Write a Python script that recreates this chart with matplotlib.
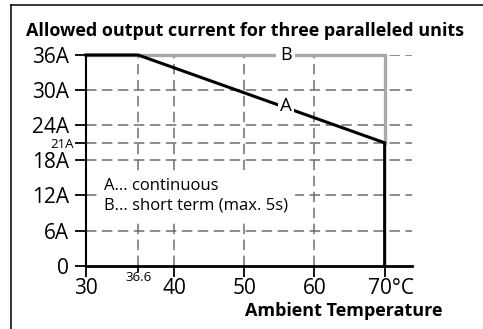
import numpy as np
import matplotlib.pyplot as plt
import matplotlib.transforms as mtransforms
from matplotlib.lines import Line2D

plt.rcParams['font.family'] = ['Open Sans', 'DejaVu Sans']
plt.rcParams['lines.scale_dashes'] = False

# derating curves (temperature in degC, current in A)
temp_a = [30, 36.6, 70, 70]
current_a = [36, 36, 21, 0]
temp_b = [30, 70, 70]
current_b = [36, 36, 21]

x_major = [30, 40, 50, 60, 70]
x_major_labels = ["30", "40", "50", "60", "70°C"]
x_minor = [36.6]
x_minor_labels = ["36.6"]
y_major = [0, 6, 12, 18, 24, 30, 36]
y_major_labels = ["0", "6A", "12A", "18A", "24A", "30A", "36A"]
y_minor = [21]
y_minor_labels = ["21A"]

# the temperature axis of the drawing is not evenly spaced
brk_t = np.array([20, 30, 36.6, 40, 80])
brk_p = np.array([-79, 0, 52, 88, 368])

def fwd(t):
    return np.interp(t, brk_t, brk_p)

def inv(p):
    return np.interp(p, brk_p, brk_t)

fig = plt.figure(figsize=(4.83, 3.29), dpi=100)
ax = fig.add_axes([86 / 483, 1 - 265.7 / 329, 326 / 483, 210.7 / 329])
ax.set_xscale('function', functions=(fwd, inv))
ax.set_xlim(30, 73.9)
ax.set_ylim(0, 36)

grid_kw = dict(color='#6e6e6e', lw=1.1, ls=(0, (7.5, 4)), zorder=1)
for y in y_major[1:] + y_minor:
    ax.axhline(y, **grid_kw)
for x in [36.6, 40, 50, 60]:
    ax.plot([x, x], [0, 36], **grid_kw)

ax.plot(temp_b, current_b, color='#a8a8a8', lw=2.4, zorder=3, clip_on=False,
        solid_joinstyle='miter')
ax.plot(temp_a, current_a, color='black', lw=2.2, zorder=4, clip_on=False,
        solid_joinstyle='miter')

ax.text(55.9, 27.35, "A", fontsize=13.5, ha='center', va='center', zorder=5,
        bbox=dict(fc='white', ec='none', pad=1.5))
ax.text(55.9, 36, "B", fontsize=13, ha='center', va='center', zorder=5,
        bbox=dict(fc='white', ec='none', pad=2.5))

ax.text(32.3, 11.9, "A... continuous\nB... short term (max. 5s)", fontsize=12,
        ha='left', va='center', linespacing=1.3, zorder=5,
        bbox=dict(fc='white', ec='none', pad=5))

for s in ['top', 'right']:
    ax.spines[s].set_visible(False)
ax.spines['left'].set_bounds(0, 36)
ax.spines['left'].set_linewidth(1.5)
ax.spines['bottom'].set_linewidth(2.0)
ax.spines['left'].set_zorder(6)
ax.spines['bottom'].set_zorder(6)

ax.set_xticks(x_major, x_major_labels, fontsize=15)
ax.set_xticks(x_minor, x_minor_labels, minor=True, fontsize=9.5)
ax.set_yticks(y_major, y_major_labels, fontsize=15)
ax.set_yticks(y_minor, y_minor_labels, minor=True, fontsize=9.5)
ax.tick_params(axis='both', which='major', direction='out', length=8, width=1.3,
               color='black', pad=1)
ax.tick_params(axis='y', which='major', pad=4)
ax.tick_params(axis='x', which='minor', direction='out', length=4, width=1.3, pad=0)
ax.tick_params(axis='y', which='minor', direction='out', length=8, width=1.3, pad=0.5)

lbl = ax.get_xticklabels()[-1]
lbl.set_transform(lbl.get_transform() + mtransforms.ScaledTranslation(6.5 / 100, 0, fig.dpi_scale_trans))

fig.text(245 / 483, 1 - 311 / 329, "Ambient Temperature", fontsize=13,
         fontweight='bold', ha='left', va='center')
fig.text(26 / 483, 1 - 31 / 329, "Allowed output current for three paralleled units",
         fontsize=13, fontweight='bold', ha='left', va='center')

# frame around the chart
fig.add_artist(Line2D([11 / 483, 1], [1 - 5 / 329] * 2, color='black', lw=1.1,
                      transform=fig.transFigure))
fig.add_artist(Line2D([11 / 483] * 2, [0, 1 - 5 / 329], color='black', lw=1.1,
                      transform=fig.transFigure))

fig.savefig("out.png", dpi=100)
